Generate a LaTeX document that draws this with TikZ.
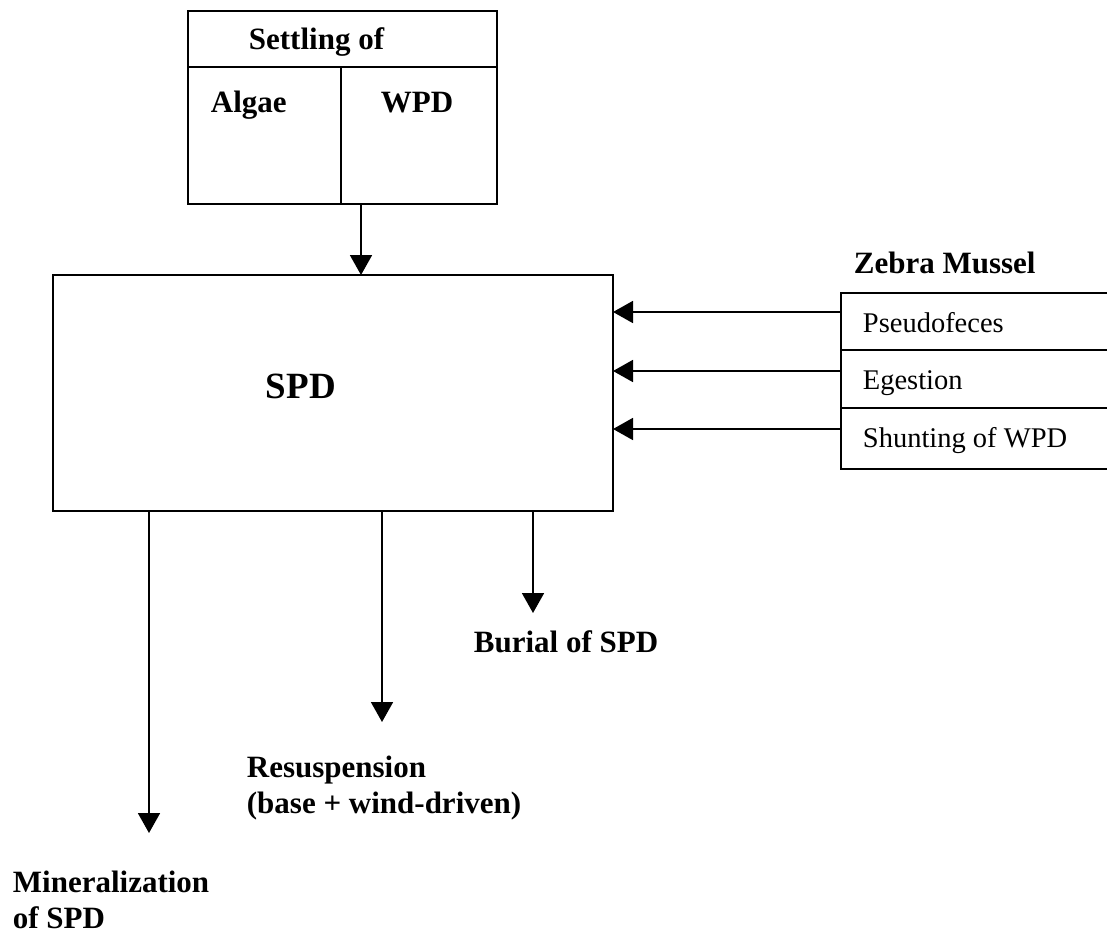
\documentclass[tikz,border=0pt]{standalone}
\usepackage{fontspec}
\setmainfont{Liberation Serif}
\usetikzlibrary{arrows.meta}
\begin{document}
\begin{tikzpicture}[x=1pt,y=-1pt,
  line width=1.8pt,
  frame/.style={draw, line width=1.8pt, inner sep=0pt, outer sep=0pt, anchor=north west},
  lbl/.style={anchor=base west, inner sep=0pt, font=\fontsize{31}{36}\selectfont\bfseries},
  big/.style={anchor=base west, inner sep=0pt, font=\fontsize{37}{42}\selectfont\bfseries},
  plain/.style={anchor=base west, inner sep=0pt, font=\fontsize{28.5}{33}\selectfont},
  flow/.style={-{Triangle[length=20pt,width=22pt]}, line width=1.8pt}]
\useasboundingbox (0,0) rectangle (1107,937);

% settling box with header and two cells
\node[frame, minimum width=309pt, minimum height=193pt] (settlebox) at (188,11) {};
\draw (188,67) -- (497,67);
\draw (341,67) -- (341,204);
\node[lbl] (settle) at (248,49) {Settling of};
\node[lbl] (algae) at (210,112) {Algae};
\node[lbl] (wpd) at (380,112) {WPD};

% sediment pool box
\node[frame, minimum width=560pt, minimum height=236pt] (spdbox) at (53,275) {};
\node[big] (spd) at (265,398) {SPD};

% zebra mussel table, open on the right
\node[lbl] (zebra) at (853,273) {Zebra Mussel};
\draw (1107,293) -- (841,293) -- (841,469) -- (1107,469);
\draw (841,350) -- (1107,350);
\draw (841,408) -- (1107,408);
\node[plain] (pseudo) at (862,332) {Pseudofeces};
\node[plain] (eges) at (862,389) {Egestion};
\node[plain] (shunt) at (862,447.5) {Shunting of WPD};

% inflow from settling
\coordinate (settleout) at (361,204);
\coordinate (spdin) at (361,275);
\draw[flow] (settleout) -- (spdin);

% inflows from zebra mussels
\coordinate (zm1) at (841,312);
\coordinate (zm2) at (841,371);
\coordinate (zm3) at (841,429);
\draw[flow] (zm1) -- (zm1 -| spdbox.east);
\draw[flow] (zm2) -- (zm2 -| spdbox.east);
\draw[flow] (zm3) -- (zm3 -| spdbox.east);

% outflows
\coordinate (burialend) at (533,613);
\coordinate (resuspend) at (382,722);
\coordinate (mineralend) at (149,833);
\draw[flow] (burialend |- spdbox.south) -- (burialend);
\draw[flow] (resuspend |- spdbox.south) -- (resuspend);
\draw[flow] (mineralend |- spdbox.south) -- (mineralend);

\node[lbl] (burial) at (473,652) {Burial of SPD};
\node[lbl] (resusp) at (246,777) {Resuspension};
\node[lbl] (resusp2) at (246,813) {(base + wind-driven)};
\node[lbl] (mineral) at (12,892) {Mineralization};
\node[lbl] (mineral2) at (12,928) {of SPD};
\end{tikzpicture}
\end{document}
